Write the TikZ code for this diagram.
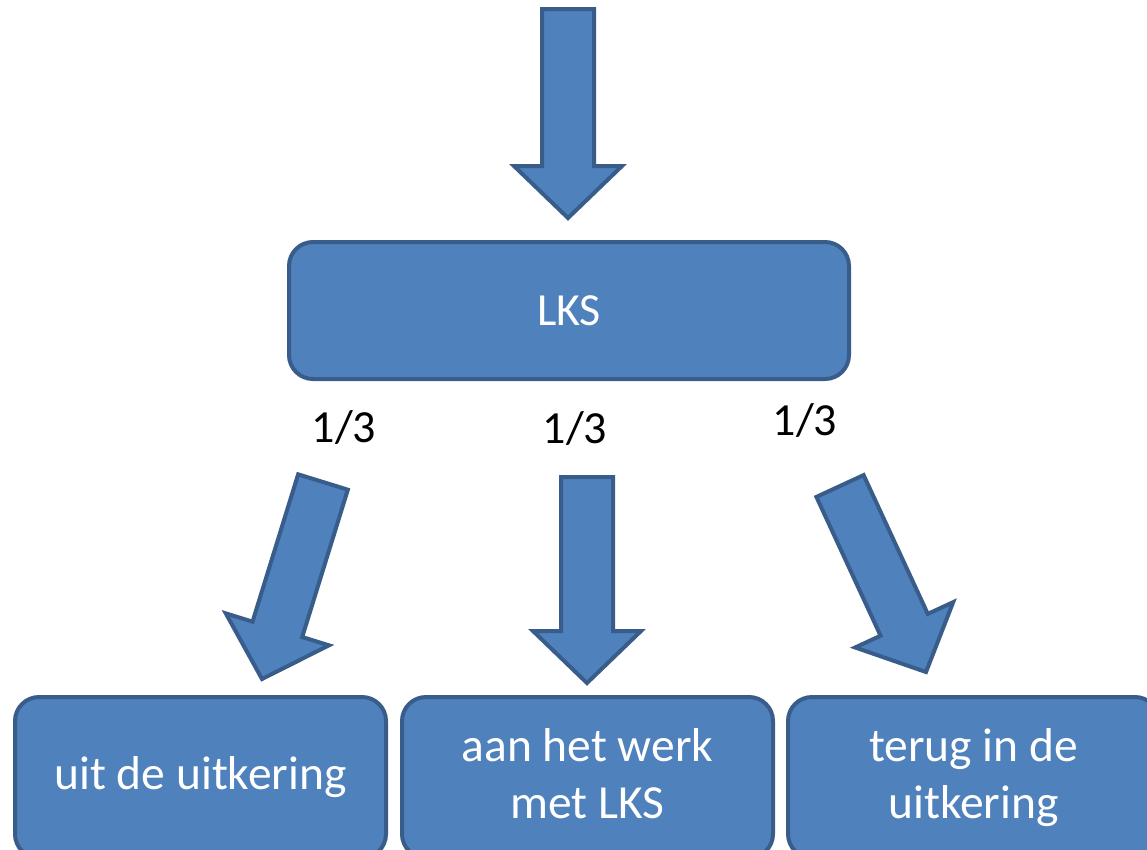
\documentclass[tikz,border=0pt]{standalone}
\usepackage{fontspec}
\setmainfont{Carlito}
\usetikzlibrary{calc}

\definecolor{vulblauw}{HTML}{4F81BD}
\definecolor{randblauw}{HTML}{385D8A}

\tikzset{
  blok/.style={draw=randblauw, fill=vulblauw, line width=4pt, rounded corners=24pt,
    text=white, font=\fontsize{46}{57}\selectfont, align=center, inner sep=0pt},
  eindblok/.style={blok, minimum width=371pt, minimum height=161pt,
    font=\fontsize{47.5}{57}\selectfont},
  pijl/.style={draw=randblauw, fill=vulblauw, line width=4pt, line join=miter},
  kans/.style={font=\fontsize{46}{57}\selectfont, text=black, inner sep=0pt}
}

% dikke blokpijl van #1 (staart) naar #2 (punt)
\newcommand{\blokpijl}[2]{%
  \coordinate (#1-kop) at ($(#2)!52pt!(#1)$);
  \draw[pijl] ($(#1)!26pt!90:(#2)$) -- ($(#1-kop)!26pt!90:(#2)$)
    -- ($(#1-kop)!54pt!90:(#2)$) -- (#2) -- ($(#1-kop)!54pt!-90:(#2)$)
    -- ($(#1-kop)!26pt!-90:(#2)$) -- ($(#1)!26pt!-90:(#2)$) -- cycle;
}

\begin{document}
\begin{tikzpicture}[x=1pt,y=-1pt]
  \useasboundingbox (0,0) rectangle (1147,849);
  \clip (0,0) rectangle (1147,849);

  \node[blok, minimum width=560pt, minimum height=137pt] (lks) at (569,310.5) {LKS}; % bovenste blok

  \node[eindblok] (uit) at (200.5,777.5) {uit de uitkering}; % links
  \node[eindblok] (werk) at (587.5,777.5) {aan het werk\\met LKS\vphantom{g}}; % midden
  \node[eindblok] (terug) at (973.5,777.5) {terug in de\\uitkering}; % rechts

  \node[kans] (k1) at (344,427) {1/3};
  \node[kans] (k2) at (575,428) {1/3};
  \node[kans] (k3) at (805,420) {1/3};

  % staart- en puntcoordinaten van de pijlen
  \coordinate (in) at (568,9);        \coordinate (in-punt) at (568,218);
  \coordinate (links) at (323,482);   \coordinate (links-punt) at (262,679);
  \coordinate (midden) at (587,477);  \coordinate (midden-punt) at (587,683);
  \coordinate (rechts) at (840,486);  \coordinate (rechts-punt) at (926,672);

  \blokpijl{in}{in-punt}         % pijl naar LKS
  \blokpijl{links}{links-punt}   % uit de uitkering
  \blokpijl{midden}{midden-punt} % aan het werk
  \blokpijl{rechts}{rechts-punt} % terug in de uitkering
\end{tikzpicture}
\end{document}
